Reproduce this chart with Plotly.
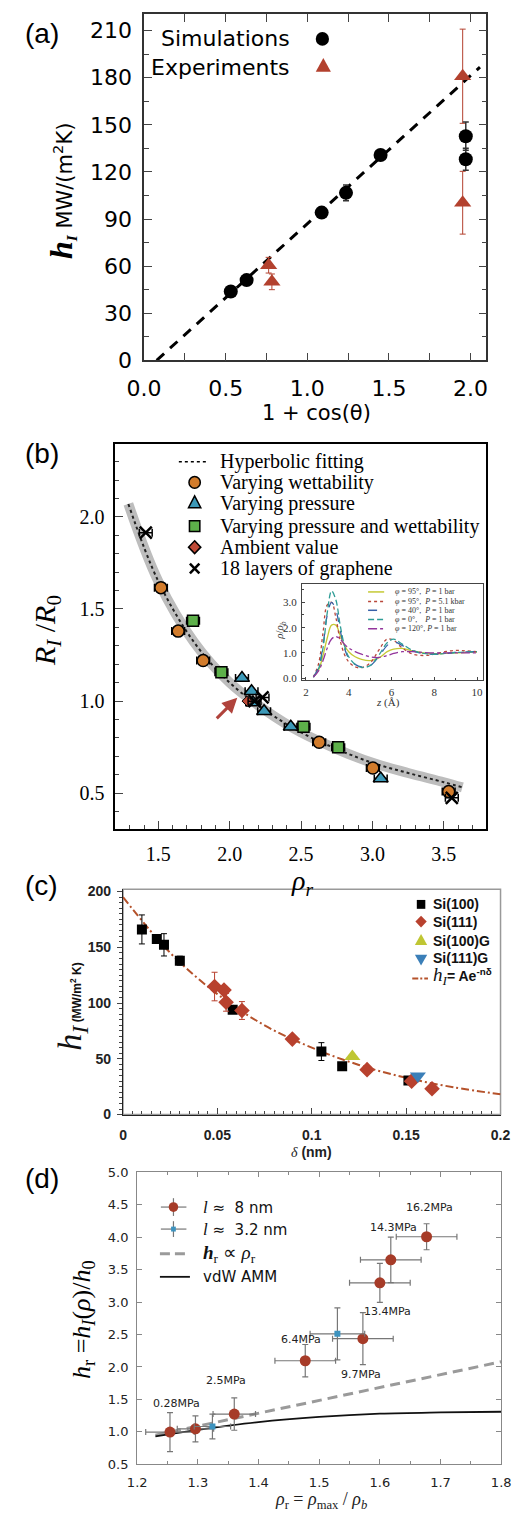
import plotly.graph_objects as go

W, H = 520, 1526


def px(x):
    return x / W


def py(y):
    return 1 - y / H


# ---------------- Panel (a) data ----------------
a_sim_x = [0.531, 0.628, 1.088, 1.237, 1.449, 1.971, 1.971]
a_sim_y = [43.8, 51.1, 94.1, 106.7, 130.8, 142.8, 128.1]
a_sim_err = [0, 0, 0, 5, 0, 9, 7]
a_exp_x = [0.763, 0.783, 1.952, 1.952]
a_exp_y = [60.6, 50.0, 181.0, 100.4]
a_exp_err = [5, 5, 30, 20]
a_fit_x = [0.077, 2.058]
a_fit_y = [0.0, 186.8]

# ---------------- Panel (b) data ----------------
b_wet_x = [1.518, 1.639, 1.814, 2.627, 3.003, 3.534]
b_wet_y = [1.616, 1.380, 1.220, 0.777, 0.637, 0.509]
b_pres_x = [2.086, 2.153, 2.163, 2.241, 2.428, 3.058]
b_pres_y = [1.125, 1.054, 0.993, 0.945, 0.861, 0.580]
b_pw_x = [1.743, 1.942, 2.517, 2.760]
b_pw_y = [1.436, 1.157, 0.861, 0.750]
b_amb_x = [2.123]
b_amb_y = [1.000]
b_gr_x = [1.412, 2.174, 2.230, 3.556]
b_gr_y = [1.914, 1.000, 1.020, 0.475]
b_xerr = 0.045
b_fit_x = [1.29, 1.5, 1.75, 2.0, 2.25, 2.5, 2.75, 3.0, 3.25, 3.5, 3.63]
b_fit_y = [2.07, 1.65, 1.32, 1.10, 0.95, 0.83, 0.74, 0.665, 0.61, 0.56, 0.532]

# inset of (b): density profiles
in_z = [2.35, 2.6, 2.8, 3.0, 3.2, 3.4, 3.6, 3.8, 4.0, 4.3, 4.6, 5.0, 5.4, 5.8,
        6.1, 6.5, 7.0, 7.5, 8.0, 8.5, 9.0, 9.5, 10.0]
in_95_1bar = [0.05, 0.35, 0.9, 1.6, 2.1, 2.1, 1.7, 1.3, 1.05, 0.85, 0.75, 0.7, 0.8,
              1.05, 1.15, 1.18, 1.08, 1.0, 0.97, 0.98, 1.0, 1.02, 1.03]
in_95_5kbar = [0.05, 0.6, 1.8, 2.9, 3.0, 2.4, 1.5, 0.95, 0.65, 0.45, 0.42, 0.6, 1.1,
               1.55, 1.5, 1.2, 0.95, 0.9, 0.95, 1.05, 1.1, 1.08, 1.05]
in_40_1bar = [0.05, 0.45, 1.3, 2.5, 3.0, 2.7, 1.9, 1.2, 0.8, 0.55, 0.45, 0.5, 0.85,
              1.3, 1.45, 1.3, 1.08, 0.97, 0.95, 0.98, 1.02, 1.04, 1.05]
in_0_1bar = [0.05, 0.4, 1.2, 2.6, 3.45, 3.1, 2.1, 1.3, 0.85, 0.55, 0.43, 0.5, 0.9,
             1.4, 1.55, 1.35, 1.1, 0.98, 0.95, 0.98, 1.02, 1.04, 1.05]
in_120_1bar = [0.05, 0.3, 0.7, 1.2, 1.55, 1.65, 1.55, 1.35, 1.2, 1.05, 0.95, 0.85, 0.82,
               0.9, 0.98, 1.05, 1.05, 1.02, 1.0, 1.0, 1.0, 1.0, 1.0]
in_labels = ['<i>φ</i> = 95°,  <i>P</i> = 1 bar', '<i>φ</i> = 95°,  <i>P</i> = 5.1 kbar',
             '<i>φ</i> = 40°,  <i>P</i> = 1 bar', '<i>φ</i> = 0°,    <i>P</i> = 1 bar',
             '<i>φ</i> = 120°, <i>P</i> = 1 bar']

# ---------------- Panel (c) data ----------------
c_s100_x = [0.0100, 0.0179, 0.0217, 0.0301, 0.0581, 0.1051, 0.1161, 0.1512]
c_s100_y = [166, 157.5, 152.2, 138, 93.9, 56.5, 43.3, 30.6]
c_s100_err = [13, 0, 10, 4, 0, 8, 0, 0]
c_s111_x = [0.0485, 0.0535, 0.0546, 0.0630, 0.0897, 0.1293, 0.1529, 0.1637]
c_s111_y = [114.8, 111.6, 100.7, 93.3, 67.7, 40.3, 30.0, 23.2]
c_s111_err = [12.8, 0, 8, 8, 0, 0, 0, 0]
c_s100g_x = [0.1215]
c_s100g_y = [52.1]
c_s111g_x = [0.1562]
c_s111g_y = [34.5]
c_fit_x = [0, 0.025, 0.05, 0.075, 0.1, 0.125, 0.15, 0.175, 0.2]
c_fit_y = [195, 145, 108, 80, 60, 44.5, 33, 24.5, 18.2]

# ---------------- Panel (d) data ----------------
d_8_x = [1.254, 1.296, 1.360, 1.477, 1.572, 1.600, 1.618, 1.677]
d_8_y = [0.997, 1.047, 1.275, 2.096, 2.436, 3.296, 3.650, 4.006]
d_8_yerr = [0.30, 0.20, 0.25, 0.25, 0.40, 0.30, 0.35, 0.20]
d_8_xerr = [0.04, 0.03, 0.035, 0.05, 0.05, 0.05, 0.05, 0.05]
d_3_x = [1.324, 1.530]
d_3_y = [1.083, 2.510]
d_3_yerr = [0.19, 0.40]
d_3_xerr = [0.03, 0.045]
d_prop_x = [1.23, 1.80]
d_prop_y = [0.95, 2.08]
d_amm_x = [1.23, 1.30, 1.40, 1.50, 1.60, 1.70, 1.80]
d_amm_y = [0.93, 1.03, 1.15, 1.23, 1.28, 1.30, 1.31]
d_lab_text = ['0.28MPa', '2.5MPa', '6.4MPa', '9.7MPa', '13.4MPa', '14.3MPa', '16.2MPa']
d_lab_x = [1.2655, 1.3466, 1.4697, 1.5696, 1.6128, 1.6222, 1.6819]
d_lab_y = [1.438, 1.79, 2.43, 1.885, 2.86, 4.15, 4.45]

SERIF = 'Liberation Serif'
SANS = 'DejaVu Sans'
ARIAL = 'Liberation Sans'
RED_A = '#b3412e'

fig = go.Figure()


def sc(x, y, xa, ya, **kw):
    fig.add_trace(go.Scatter(x=x, y=y, xaxis=xa, yaxis=ya, showlegend=False,
                             hoverinfo='skip', **kw))


# ---- (a) traces ----
sc(a_fit_x, a_fit_y, 'x', 'y', mode='lines',
   line=dict(color='black', width=3, dash='10px,8px'))
sc(a_exp_x, a_exp_y, 'x', 'y', mode='markers',
   marker=dict(symbol='triangle-up', size=15, color=RED_A),
   error_y=dict(type='data', array=a_exp_err, color=RED_A, thickness=1, width=3))
sc(a_sim_x, a_sim_y, 'x', 'y', mode='markers',
   marker=dict(symbol='circle', size=14, color='black'),
   error_y=dict(type='data', array=a_sim_err, color='#333', thickness=1.5, width=3))

# ---- (b) traces ----
sc(b_fit_x, b_fit_y, 'x2', 'y2', mode='lines', line=dict(color='#bdbdbd', width=10, shape='spline'))
sc(b_fit_x, b_fit_y, 'x2', 'y2', mode='lines',
   line=dict(color='#222', width=2, dash='dot', shape='spline'))
errb = dict(type='constant', value=b_xerr, color='black', thickness=1.5, width=4)
sc(b_wet_x, b_wet_y, 'x2', 'y2', mode='markers', error_x=errb,
   marker=dict(symbol='circle', size=12, color='#d27c2c', line=dict(color='black', width=1.5)))
sc(b_pw_x, b_pw_y, 'x2', 'y2', mode='markers', error_x=errb,
   marker=dict(symbol='square', size=11, color='#5db04a', line=dict(color='black', width=1.5)))
sc(b_pres_x, b_pres_y, 'x2', 'y2', mode='markers', error_x=errb,
   marker=dict(symbol='triangle-up', size=13, color='#3c99b8', line=dict(color='black', width=1.5)))
sc(b_amb_x, b_amb_y, 'x2', 'y2', mode='markers',
   marker=dict(symbol='diamond', size=8, color='#bf4b38', line=dict(color='black', width=1)))
sc(b_gr_x, b_gr_y, 'x2', 'y2', mode='markers', error_x=errb,
   marker=dict(symbol='x-thin', size=12, color='black', line=dict(color='black', width=2.5)))

# inset
for ys, col, dash in [(in_95_1bar, '#c5c934', 'solid'), (in_95_5kbar, '#b9473b', 'dot'),
                      (in_40_1bar, '#3760a8', 'dash'), (in_0_1bar, '#2e9c96', '6px,3px'),
                      (in_120_1bar, '#93359c', 'dashdot')]:
    sc(in_z, ys, 'x3', 'y3', mode='lines', line=dict(color=col, width=1.3, dash=dash, shape='spline'))

# ---- (c) traces ----
sc(c_fit_x, c_fit_y, 'x4', 'y4', mode='lines',
   line=dict(color='#b5522b', width=2, dash='8px,3px,2px,3px', shape='spline'))
sc(c_s100_x, c_s100_y, 'x4', 'y4', mode='markers',
   marker=dict(symbol='square', size=10, color='black'),
   error_y=dict(type='data', array=c_s100_err, color='black', thickness=1, width=3))
sc(c_s111_x, c_s111_y, 'x4', 'y4', mode='markers',
   marker=dict(symbol='diamond', size=12, color='#b8412e'),
   error_y=dict(type='data', array=c_s111_err, color='#b8412e', thickness=1, width=3))
sc(c_s100g_x, c_s100g_y, 'x4', 'y4', mode='markers',
   marker=dict(symbol='triangle-up', size=14, color='#bfc633'))
sc(c_s111g_x, c_s111g_y, 'x4', 'y4', mode='markers',
   marker=dict(symbol='triangle-down', size=14, color='#3b7fb8'))

# ---- (d) traces ----
sc(d_prop_x, d_prop_y, 'x5', 'y5', mode='lines', line=dict(color='#9a9a9a', width=3, dash='10px,6px'))
sc(d_amm_x, d_amm_y, 'x5', 'y5', mode='lines', line=dict(color='#111', width=1.8, shape='spline'))
sc(d_8_x, d_8_y, 'x5', 'y5', mode='markers',
   marker=dict(symbol='circle', size=11, color='#a63b28'),
   error_x=dict(type='data', array=d_8_xerr, color='#777', thickness=1.2, width=3),
   error_y=dict(type='data', array=d_8_yerr, color='#777', thickness=1.2, width=3))
sc(d_3_x, d_3_y, 'x5', 'y5', mode='markers',
   marker=dict(symbol='square', size=6, color='#3d93bf'),
   error_x=dict(type='data', array=d_3_xerr, color='#777', thickness=1.2, width=3),
   error_y=dict(type='data', array=d_3_yerr, color='#777', thickness=1.2, width=3))

# ---------------- axes ----------------
def axis(dom, rng, **kw):
    d = dict(domain=dom, range=rng, showgrid=False, zeroline=False, showline=True)
    d.update(kw)
    return d


layout = dict(
    width=W, height=H, margin=dict(l=0, r=0, t=0, b=0),
    paper_bgcolor='white', plot_bgcolor='white', showlegend=False,
    xaxis=axis([px(133.3), px(495)], [0, 2.097], anchor='y', dtick=0.5, tick0=0, tickformat='.1f',
               ticks='inside', ticklen=8, tickwidth=1.3, linecolor='#333', linewidth=1.5,
               mirror='ticks', minor=dict(dtick=0.25, ticklen=8, ticks='inside', tickwidth=1.3),
               tickfont=dict(family=SANS, size=22, color='black'), ticklabelstandoff=8),
    yaxis=axis([py(358), py(7)], [0, 220.7], anchor='x', dtick=30, tick0=0,
               ticks='inside', ticklen=8, tickwidth=1.3, linecolor='#333', linewidth=1.5,
               mirror='ticks', minor=dict(dtick=15, ticklen=5, ticks='inside', tickwidth=1.3),
               tickfont=dict(family=SANS, size=22, color='black'), ticklabelstandoff=6),
    xaxis2=axis([px(102), px(495)], [1.193, 3.798], anchor='y2', dtick=0.5, tick0=0, tickformat='.1f',
                ticks='inside', ticklen=8, linecolor='black', linewidth=2, mirror=True,
                minor=dict(dtick=0.1, ticklen=4, ticks='inside'),
                tickfont=dict(family=SERIF, size=20, color='black'), ticklabelstandoff=6),
    yaxis2=axis([py(833.3), py(442.7)], [0.304, 2.396], anchor='x2', dtick=0.5, tick0=0, tickformat='.1f',
                ticks='inside', ticklen=8, linecolor='black', linewidth=2, mirror=True,
                minor=dict(dtick=0.1, ticklen=4, ticks='inside'),
                tickfont=dict(family=SERIF, size=20, color='black'), ticklabelstandoff=4),
    xaxis3=axis([px(300), px(491.7)], [1.81, 10.29], anchor='y3', dtick=2, tick0=0,
                ticks='inside', ticklen=3, linecolor='#444', linewidth=1, mirror=True,
                minor=dict(dtick=1, ticklen=2, ticks='inside'),
                tickfont=dict(family=SERIF, size=11, color='#333'), ticklabelstandoff=2),
    yaxis3=axis([py(682), py(585)], [-0.07, 3.71], anchor='x3', dtick=1, tick0=0, tickformat='.1f',
                ticks='inside', ticklen=3, linecolor='#444', linewidth=1, mirror=True,
                minor=dict(dtick=0.5, ticklen=2, ticks='inside'),
                tickfont=dict(family=SERIF, size=11, color='#333'), ticklabelstandoff=2),
    xaxis4=axis([px(111), px(510)], [0, 0.2], anchor='y4',
                tickvals=[0, 0.05, 0.1, 0.15, 0.2], ticktext=['0', '0.05', '0.1', '0.15', '0.2'],
                ticks='inside', ticklen=6, linecolor='#222', linewidth=1.2,
                minor=dict(dtick=0.005, ticklen=3, ticks='inside'),
                tickfont=dict(family=ARIAL, size=14, color='#222', weight='bold'), ticklabelstandoff=8),
    yaxis4=axis([py(1122.3), py(894)], [0, 202], anchor='x4', dtick=50, tick0=0,
                ticks='outside', ticklen=5, linecolor='#222', linewidth=1.2,
                minor=dict(dtick=5, ticklen=3, ticks='outside'),
                tickfont=dict(family=ARIAL, size=14, color='#222', weight='bold'), ticklabelstandoff=3),
    xaxis5=axis([px(126), px(510.7)], [1.2, 1.8], anchor='y5', dtick=0.1, tick0=0, tickformat='.1f',
                ticks='inside', ticklen=5, linecolor='#888', linewidth=1.2, mirror='ticks', tickcolor='#888',
                minor=dict(dtick=0.05, ticklen=3, ticks='inside', tickcolor='#888'),
                tickfont=dict(family=SANS, size=13, color='#222'), ticklabelstandoff=6),
    yaxis5=axis([py(1476.7), py(1180.7)], [0.5, 5.0], anchor='x5', dtick=0.5, tick0=0, tickformat='.1f',
                ticks='inside', ticklen=5, linecolor='#888', linewidth=1.2, mirror='ticks', tickcolor='#888',
                tickfont=dict(family=SANS, size=13, color='#222'), ticklabelstandoff=5),
)
fig.update_layout(**layout)

annotations = []
shapes = []


def ann(x, y, text, size, family, xanchor='center', yanchor='middle', color='black', angle=0):
    annotations.append(dict(x=px(x), y=py(y), xref='paper', yref='paper', text=text, showarrow=False,
                            xanchor=xanchor, yanchor=yanchor, textangle=angle,
                            font=dict(size=size, family=family, color=color)))


def circle(cx, cy, d, fill, line='black', lw=0):
    shapes.append(dict(type='circle', xref='paper', yref='paper', x0=px(cx - d / 2), x1=px(cx + d / 2),
                       y0=py(cy + d / 2), y1=py(cy - d / 2), fillcolor=fill,
                       line=dict(color=line, width=lw)))


def poly(pts, fill, line='black', lw=0):
    path = 'M ' + ' L '.join(f'{px(a):.5f},{py(b):.5f}' for a, b in pts) + ' Z'
    shapes.append(dict(type='path', xref='paper', yref='paper', path=path, fillcolor=fill,
                       line=dict(color=line, width=lw)))


def seg(x0, y0, x1, y1, color, width, dash='solid'):
    shapes.append(dict(type='line', xref='paper', yref='paper', x0=px(x0), x1=px(x1),
                       y0=py(y0), y1=py(y1), line=dict(color=color, width=width, dash=dash)))


def tri_up(cx, cy, w, h, fill, line='black', lw=0):
    poly([(cx, cy - h * 2 / 3), (cx - w / 2, cy + h / 3), (cx + w / 2, cy + h / 3)], fill, line, lw)


def tri_down(cx, cy, w, h, fill, line='black', lw=0):
    poly([(cx, cy + h * 2 / 3), (cx - w / 2, cy - h / 3), (cx + w / 2, cy - h / 3)], fill, line, lw)


def square(cx, cy, s, fill, line='black', lw=0):
    poly([(cx - s / 2, cy - s / 2), (cx + s / 2, cy - s / 2), (cx + s / 2, cy + s / 2), (cx - s / 2, cy + s / 2)],
         fill, line, lw)


def diamond(cx, cy, s, fill, line='black', lw=0):
    poly([(cx, cy - s / 2), (cx + s / 2, cy), (cx, cy + s / 2), (cx - s / 2, cy)], fill, line, lw)


# panel labels
for lab, yy in [('(a)', 27), ('(b)', 452), ('(c)', 890), ('(d)', 1187)]:
    ann(25, yy, lab, 28, ARIAL)

# ---- (a) texts ----
ann(290, 32.3, 'Simulations', 22, SANS, xanchor='right')
ann(290, 61.7, 'Experiments', 22, SANS, xanchor='right')
circle(321.7, 32.3, 14, 'black')
tri_up(322.7, 61, 16, 14, RED_A)
ann(315, 411, '1 + cos(θ)', 21, SANS)
ann(46, 187, '<span style="font-family:Liberation Serif;font-size:32px"><b><i>h</i></b></span>'
             '<span style="font-family:Liberation Serif;font-size:22px"><b><i><sub>I</sub></i></b></span>'
             ' MW/(m<sup>2</sup>K)', 21, SANS, angle=-90)

# ---- (b) texts ----
leg_b = ['Hyperbolic fitting', 'Varying wettability', 'Varying pressure',
         'Varying pressure and wettability', 'Ambient value', '18 layers of graphene']
rows_b = [460.7, 481.7, 503.3, 526, 547.3, 569]
for t, yy in zip(leg_b, rows_b):
    ann(211, yy, t, 20, SERIF, xanchor='left')
seg(170, rows_b[0], 200.7, rows_b[0], 'black', 1.5, 'dot')
circle(186.7, rows_b[1], 12, '#d27c2c', 'black', 1.5)
tri_up(186.7, rows_b[2], 13, 12, '#3c99b8', 'black', 1.5)
square(186.7, rows_b[3], 11, '#5db04a', 'black', 1.5)
diamond(186.7, rows_b[4], 13, '#bf4b38', 'black', 1.5)
seg(181.7, rows_b[5] - 5, 191.7, rows_b[5] + 5, 'black', 2.5)
seg(181.7, rows_b[5] + 5, 191.7, rows_b[5] - 5, 'black', 2.5)
ann(30, 632, '<i>R<sub>I</sub></i> /<i>R</i><sub>0</sub>', 30, SERIF, angle=-90)
ann(300, 887, '<i>ρ<sub>r</sub></i>', 28, SERIF)
annotations.append(dict(x=2.053, y=1.018, xref='x2', yref='y2', ax=-22, ay=22, text='',
                        showarrow=True, arrowhead=2, arrowsize=1, arrowwidth=3, arrowcolor='#b0433c'))

# inset texts
ann(277, 632, '<i>ρ</i>/<i>ρ</i><sub><i>b</i></sub>', 11, SERIF, angle=-90, color='#333')
ann(391, 705, '<i>z</i> (Å)', 11, SERIF, color='#333')
rows_in = [592.7, 602.3, 611.3, 620.7, 630]
in_styles = [('#c5c934', 'solid'), ('#b9473b', 'dot'), ('#3760a8', 'dash'),
             ('#2e9c96', '6px,3px'), ('#93359c', 'dashdot')]
for t, yy, (col, dsh) in zip(in_labels, rows_in, in_styles):
    ann(396, yy, t, 8, SERIF, xanchor='left', color='#333')
    seg(370, yy, 387, yy, col, 1.5, dsh)

# ---- (c) texts ----
rows_c = [909.3, 926.7, 946.7, 964, 982.3]
leg_c = ['<b>Si(100)</b>', '<b>Si(111)</b>', '<b>Si(100)G</b>', '<b>Si(111)G</b>',
         '<span style="font-family:Liberation Serif;font-size:19px"><i>h<sub>I</sub></i></span>'
         '<b>= Ae<sup>-nδ</sup></b>']
for t, yy in zip(leg_c, rows_c):
    ann(436.7, yy, t, 14, ARIAL, xanchor='left', color='#111')
square(426, rows_c[0], 9, 'black')
diamond(426, rows_c[1], 12, '#b8412e')
tri_up(426, rows_c[2], 13, 11, '#bfc633')
tri_down(426, rows_c[3], 13, 11, '#3b7fb8')
seg(416.7, rows_c[4] + 2, 433.3, rows_c[4] + 2, '#b5522b', 2, '6px,2px,2px,2px')
ann(310, 1160, '<span style="font-family:Liberation Serif"><i>δ</i></span> <b>(nm)</b>', 14, ARIAL, color='#222')
ann(57, 1013, '<span style="font-family:Liberation Serif;font-size:34px"><i>h<sub>I</sub></i></span>'
              ' <b>(MW/m<sup>2</sup> K)</b>', 12, ARIAL, angle=-90, color='#111')
shapes.append(dict(type='rect', xref='x4 domain', yref='y4 domain', x0=0, x1=1, y0=0, y1=1,
                   line=dict(color='#999', width=1.5), layer='below'))

# ---- (d) texts ----
rows_d = [1216, 1238.3, 1263.3, 1286.7]
seg(151, rows_d[0], 178, rows_d[0], '#777', 1.2)
seg(164.3, rows_d[0] - 9, 164.3, rows_d[0] + 9, '#777', 1.2)
circle(164.3, rows_d[0], 10, '#a63b28')
seg(151, rows_d[1], 178, rows_d[1], '#777', 1.2)
seg(164.3, rows_d[1] - 8, 164.3, rows_d[1] + 8, '#777', 1.2)
square(164.3, rows_d[1], 5, '#3d93bf')
seg(150, rows_d[2], 181.7, rows_d[2], '#9a9a9a', 3, '10px,5px')
seg(150, rows_d[3], 181.7, rows_d[3], '#111', 1.8)
leg_d = ['<span style="font-family:Liberation Serif;font-size:17px"><i>l</i></span> ≈  8 nm',
         '<span style="font-family:Liberation Serif;font-size:17px"><i>l</i></span> ≈  3.2 nm',
         '<span style="font-family:Liberation Serif;font-size:19px"><b><i>h</i></b><sub>r</sub> ∝ <i>ρ</i><sub>r</sub></span>',
         'vdW AMM']
for t, yy in zip(leg_d, rows_d):
    ann(193.3, yy, t, 15, SANS, xanchor='left', color='#111')
for t, xx, yy in zip(d_lab_text, d_lab_x, d_lab_y):
    annotations.append(dict(x=xx, y=yy, xref='x5', yref='y5', text=t, showarrow=False,
                            font=dict(size=11, family=SANS, color='#222')))
ann(68, 1330, '<i>h</i><sub>r</sub> =<i>h</i><sub><i>I</i></sub>(<i>ρ</i>)/<i>h</i><sub>0</sub>', 26, SERIF,
    angle=-90)
ann(320, 1513, '<i>ρ</i><sub>r</sub> = <i>ρ</i><sub>max</sub> / <i>ρ</i><sub><i>b</i></sub>', 18, SERIF,
    color='#222')

fig.update_layout(annotations=annotations, shapes=shapes)
fig.write_html('out.html')
